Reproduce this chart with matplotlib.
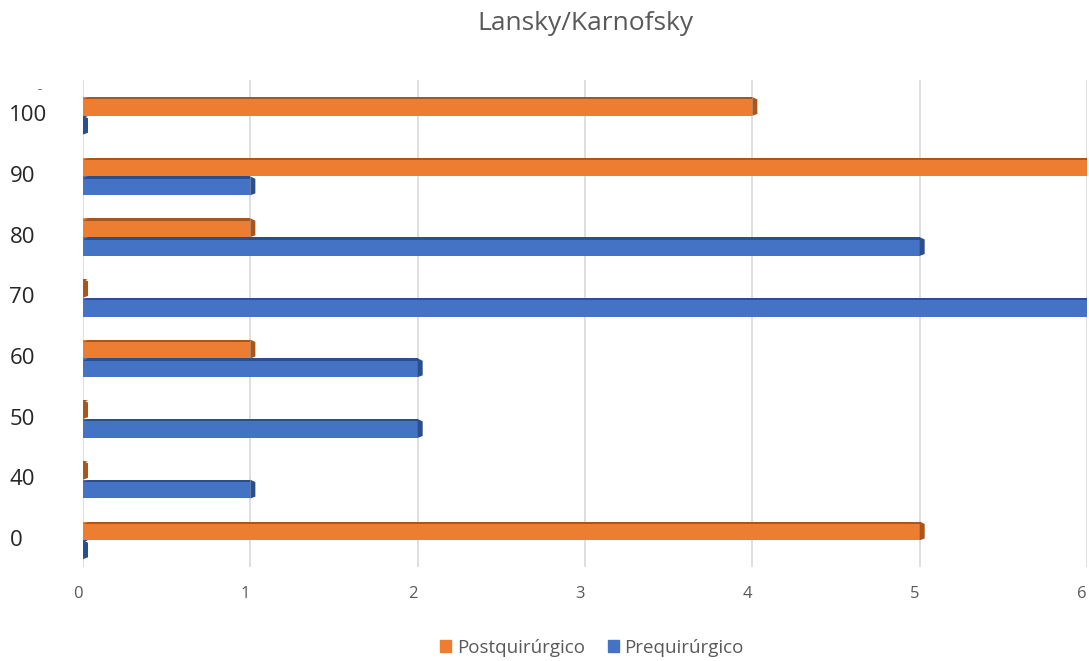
import matplotlib.pyplot as plt
from matplotlib.patches import Polygon, Patch
from matplotlib.transforms import ScaledTranslation
import numpy as np

# categories from bottom to top
categories = ["0", "40", "50", "60", "70", "80", "90", "100"]
post = [5, 0, 0, 1, 0, 1, 6, 4]   # Postquirúrgico
pre = [0, 1, 2, 2, 6, 5, 1, 0]    # Prequirúrgico

orange = "#ED7D31"
orange_dark = "#A9561C"
blue = "#4472C4"
blue_dark = "#2B4F8C"

plt.rcParams['font.family'] = ['Open Sans', 'DejaVu Sans']

fig = plt.figure(figsize=(10.89, 6.61), dpi=100)
ax = fig.add_axes([83 / 1089, 1 - 567 / 661, (1087 - 83) / 1089, (567 - 80) / 661])

h = 0.31
y = np.arange(len(categories))


def bar3d(ypos, vals, color, dark):
    ax.barh(ypos, vals, height=h, color=color, zorder=3)
    for yy, v in zip(ypos, vals):
        top = yy + h / 2
        # top bevel
        ax.add_patch(Polygon([(0.03, top), (v, top), (v, top - 0.04), (0, top - 0.04)],
                             closed=True, color=dark, lw=0, zorder=4))
        # end cap
        ax.add_patch(Polygon([(v, top), (v + 0.03, top - 0.04), (v + 0.03, yy - h / 2 + 0.03),
                              (v, yy - h / 2)], closed=True, color=dark, lw=0, zorder=4))


bar3d(y + h / 2 - 0.04, post, orange, orange_dark)
bar3d(y - h / 2 - 0.04, pre, blue, blue_dark)

ax.set_xlim(0, 6)
ax.set_ylim(-0.48, 7.55)
ax.set_xticks(range(7))
ax.grid(axis='x', color='#D9D9D9', lw=1.2, zorder=0)
for s in ax.spines.values():
    s.set_visible(False)

ax.set_yticks(y)
ax.set_yticklabels(categories, fontsize=16, color='#262626')
for lbl in ax.get_yticklabels():
    lbl.set_horizontalalignment('left')
ax.tick_params(axis='y', length=0, pad=53)
ax.tick_params(axis='x', length=0, pad=14, labelsize=12, labelcolor='#595959')
shift = ScaledTranslation(-5 / 100, 0, fig.dpi_scale_trans)
for lbl in ax.get_xticklabels():
    lbl.set_transform(lbl.get_transform() + shift)

fig.text(585 / 1089, 1 - 24 / 661, "Lansky/Karnofsky", ha='center', va='center', fontsize=19, color='#595959')
fig.text(40 / 1089, 1 - 90 / 661, "-", ha='center', va='center', fontsize=9, color='#595959')

handles = [Patch(color=orange, label="Postquirúrgico"), Patch(color=blue, label="Prequirúrgico")]
fig.legend(handles=handles, loc='center', bbox_to_anchor=(592 / 1089, 1 - 648 / 661), ncol=2,
           frameon=False, fontsize=13.5, labelcolor='#595959', handlelength=0.6, handleheight=0.6,
           handletextpad=0.3, columnspacing=1.2)

fig.savefig("out.png", dpi=100)
